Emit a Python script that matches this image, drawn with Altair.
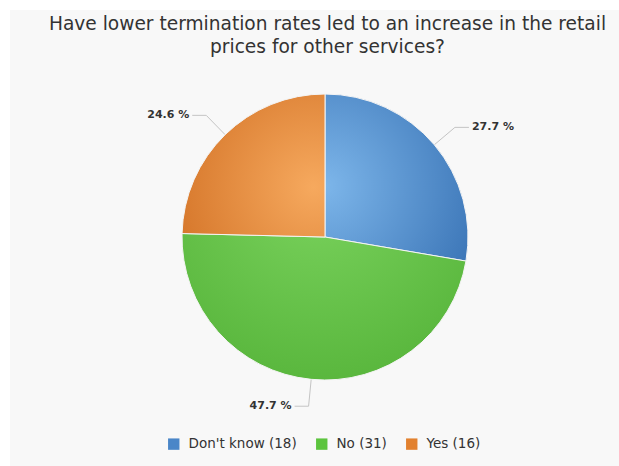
import altair as alt
import pandas as pd

# ---- data ----
categories = ["Don't know", "No", "Yes"]
counts = [18, 31, 16]
order_idx = [0, 1, 2]
title_lines = ["Have lower termination rates led to an increase in the retail",
               "prices for other services?"]

# ---- style ----
legend_colors = ["#4a86c8", "#5cc43e", "#e2812f"]
R = 143          # pie radius (px)
CX, CY = 315, 227  # pie centre in view coordinates
VW, VH = 609, 456


def grad(c0, c1, x, y, r):
    return {"gradient": "radial", "x1": x, "y1": y, "r1": 0,
            "x2": x, "y2": y, "r2": r,
            "stops": [{"offset": 0, "color": c0}, {"offset": 1, "color": c1}]}


g_blue = grad("#7db6ea", "#3a74b6", 0.07, 0.55, 1.0)
g_green = grad("#7bd35e", "#4fae33", 0.48, 0.08, 0.9)
g_orange = grad("#f6a95e", "#d6772b", 0.92, 0.65, 1.0)

df = pd.DataFrame({"cat": categories, "count": counts, "idx": order_idx})

xs = alt.Scale(domain=[-CX, VW - CX], nice=False, zero=False)
ys = alt.Scale(domain=[-(VH - CY), CY], nice=False, zero=False)

base = alt.Chart(df).transform_joinaggregate(
    total="sum(count)"
).transform_window(
    cum="sum(count)", sort=[alt.SortField("idx")], frame=[None, 0]
).transform_calculate(
    label="datum.cat + ' (' + datum.count + ')'",
    pct="format(datum.count / datum.total * 100, '.1f') + ' %'",
    mid="(datum.cum - datum.count / 2) / datum.total * 2 * PI",
    sx="sin(datum.mid)",
    cy="cos(datum.mid)",
    x0="%d * datum.sx" % R,
    y0="%d * datum.cy" % R,
    x1="%d * datum.sx" % (R + 27),
    y1="%d * datum.cy" % (R + 27),
    x2="datum.x1 + (datum.sx > 0 ? 14 : -14)",
)

pie = base.mark_arc(outerRadius=R, stroke="#f4f4f4", strokeWidth=1).encode(
    theta=alt.Theta("count:Q", stack=True),
    order=alt.Order("idx:O"),
    fill={"condition": [{"test": "datum.idx === 0", "value": g_blue},
                        {"test": "datum.idx === 1", "value": g_green}],
          "value": g_orange},
    x=alt.value(CX),
    y=alt.value(CY),
)

# invisible layer that only carries the colour legend
legend_layer = base.mark_arc(outerRadius=0, innerRadius=0).encode(
    theta=alt.Theta("count:Q", stack=True),
    order=alt.Order("idx:O"),
    color=alt.Color(
        "label:N",
        sort=alt.EncodingSortField("idx"),
        scale=alt.Scale(range=legend_colors),
        legend=alt.Legend(
            orient="none", legendX=157, legendY=427, direction="horizontal",
            title=None, symbolType="square", symbolSize=130,
            symbolStrokeWidth=0, labelFontSize=13.5, labelColor="#333333",
            labelFont="DejaVu Sans", columnPadding=18, labelOffset=8,
            padding=0,
        ),
    ),
    x=alt.value(CX),
    y=alt.value(CY),
)

seg1 = base.mark_rule(color="#c4c4c4", strokeWidth=1).encode(
    x=alt.X("x0:Q", scale=xs, axis=None),
    y=alt.Y("y0:Q", scale=ys, axis=None),
    x2="x1:Q",
    y2="y1:Q",
)
seg2 = base.mark_rule(color="#c4c4c4", strokeWidth=1).encode(
    x=alt.X("x1:Q", scale=xs, axis=None),
    y=alt.Y("y1:Q", scale=ys, axis=None),
    x2="x2:Q",
    y2="y1:Q",
)

txt_style = dict(fontSize=11, fontWeight="bold", color="#333333",
                 font="DejaVu Sans", baseline="middle")
lab_r = base.transform_filter("datum.sx > 0").mark_text(
    align="left", dx=3, **txt_style).encode(
    x=alt.X("x2:Q", scale=xs, axis=None),
    y=alt.Y("y1:Q", scale=ys, axis=None),
    text="pct:N",
)
lab_l = base.transform_filter("datum.sx <= 0").mark_text(
    align="right", dx=-3, **txt_style).encode(
    x=alt.X("x2:Q", scale=xs, axis=None),
    y=alt.Y("y1:Q", scale=ys, axis=None),
    text="pct:N",
)

chart = alt.layer(seg1, seg2, pie, legend_layer, lab_r, lab_l).properties(
    width=VW, height=VH,
    autosize="none",
    padding={"left": 10, "top": 10, "right": 0, "bottom": 0},
    title=alt.TitleParams(
        text=title_lines, fontSize=18.6, font="DejaVu Sans",
        fontWeight="normal", color="#333333", lineHeight=23,
        anchor="middle", dx=13, offset=-47,
    ),
).configure(background="white").configure_view(fill="#f8f8f8", strokeWidth=0)

chart.save("out.html", embed_options={"renderer": "svg", "actions": False})
